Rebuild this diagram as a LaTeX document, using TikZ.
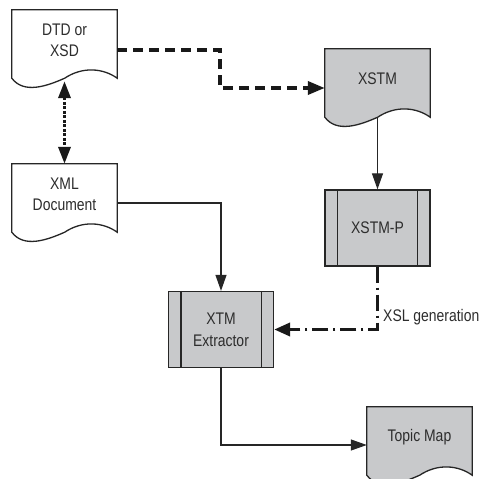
\documentclass[tikz,border=0pt]{standalone}
\usepackage{fontspec}
\setmainfont{Liberation Sans}[FakeStretch=0.83]
\usetikzlibrary{arrows.meta,calc,backgrounds}

\definecolor{boxgray}{RGB}{200,201,203}
\definecolor{inkgray}{RGB}{45,45,45}

\newcommand{\docoutline}[2]{%
  \draw[box line,fill=#2] ($(#1.south west)+(0,8)$) -- (#1.north west) -- (#1.north east)
    -- ($(#1.south east)+(0,8)$)
    .. controls +(-14,-10) and +(18,-12) .. ++(-52.5,0)
    .. controls +(-18,8) and +(12,16) .. ($(#1.south west)+(0,8)$) -- cycle;}

\begin{document}
\begin{tikzpicture}[
  x=1pt,y=-1pt,
  every node/.style={
    text=inkgray,
    font=\fontsize{16.8}{21}\selectfont
  },
  box line/.style={
    draw=black!85,
    line width=1.3pt
  },
  docbox/.style={
    minimum width=105pt,
    minimum height=60pt,
    inner sep=0pt,
    align=center
  },
  procbox/.style={
    box line,
    fill=boxgray,
    minimum width=105pt,
    minimum height=76pt,
    inner sep=0pt,
    align=center,
    append after command={
      ([xshift=13pt]\tikzlastnode.north west) edge[box line] ([xshift=13pt]\tikzlastnode.south west)
      ([xshift=-13pt]\tikzlastnode.north east) edge[box line] ([xshift=-13pt]\tikzlastnode.south east)
    }
  },
  flow/.style={
    draw=black!85,
    line width=1.2pt,
    -{Triangle[length=16pt,width=11pt]}
  },
  schema/.style={
    draw=black!90,
    line width=3.6pt,
    dash pattern=on 10pt off 6pt,
    -{Triangle[length=17pt,width=13pt]}
  },
  link/.style={
    draw=black!90,
    line width=3.4pt,
    dash pattern=on 3pt off 1.5pt,
    {Triangle[length=17pt,width=12pt]}-{Triangle[length=17pt,width=12pt]}
  },
  gen/.style={
    draw=black!90,
    line width=3.6pt,
    dash pattern=on 16pt off 5pt on 2pt off 5pt,
    -{Triangle[length=16pt,width=13pt]}
  },
]
\clip (0,0) rectangle (483,479);

\node[docbox] (dtd) at (64.5,40) {DTD or\\XSD};
\node[docbox] (xml) at (64.5,194) {XML\\Document};
\node[docbox] (xstm) at (377.5,79) {XSTM};
\node[docbox] (topic) at (419.5,437) {Topic Map};
\node[procbox] (xstmp) at (377.5,228) {XSTM-P};
\node[procbox] (xtm) at (221,329.5) {XTM\\[1pt]Extractor};
\node[anchor=west,inner sep=0pt] (xsl) at (383,317) {XSL generation};

\begin{scope}[on background layer]
  \docoutline{dtd}{white}
  \docoutline{xml}{white}
  \docoutline{xstm}{boxgray}
  \docoutline{topic}{boxgray}
\end{scope}

\draw[schema] ([yshift=-10pt]dtd.east) -- ++(103,0) |- ([yshift=-9pt]xstm.west);
\draw[link] ([yshift=-11pt]dtd.south) -- (xml.north);
\draw[flow] ([yshift=-8pt]xstm.south) -- (xstmp.north);
\draw[flow] ([yshift=-9pt]xml.east) -| (xtm.north);
\draw[gen] (xstmp.south) |- (xtm.east);
\draw[flow] (xtm.south) |- ([yshift=-8pt]topic.west);
\end{tikzpicture}
\end{document}
